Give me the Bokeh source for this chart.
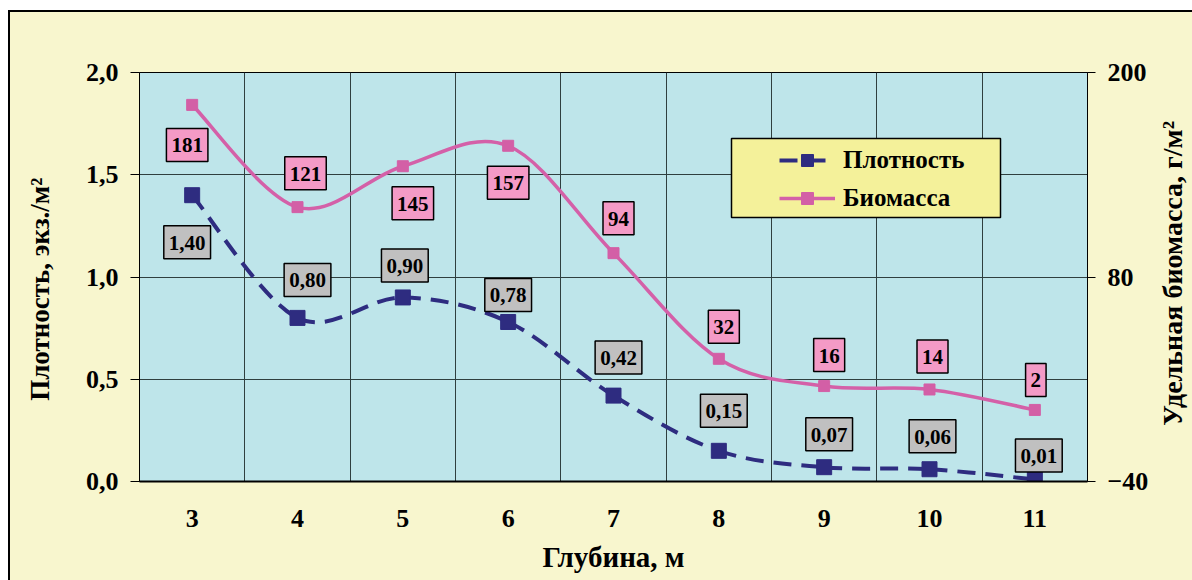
import math
import numpy as np
from bokeh.plotting import figure
from bokeh.layouts import row
from bokeh.models import (Range1d, LinearAxis, FixedTicker, CustomJSTickFormatter,
                          ColumnDataSource, Label, Legend, LegendItem, BoxAnnotation)
from bokeh.embed import file_html
from bokeh.resources import INLINE
from bokeh.core.properties import value

# ---- data ----
depth = [3, 4, 5, 6, 7, 8, 9, 10, 11]
density = [1.40, 0.80, 0.90, 0.78, 0.42, 0.15, 0.07, 0.06, 0.01]
biomass = [181, 121, 145, 157, 94, 32, 16, 14, 2]
density_labels = ["1,40", "0,80", "0,90", "0,78", "0,42", "0,15", "0,07", "0,06", "0,01"]
biomass_labels = ["181", "121", "145", "157", "94", "32", "16", "14", "2"]
left_ticks = [0.0, 0.5, 1.0, 1.5, 2.0]
right_ticks = [-40, 80, 200]
left_title = "Плотность, экз./м²"
right_title = "Удельная биомасса, г/м²"
x_title = "Глубина, м"

# ---- label placement (pixel offsets, style only) ----
dens_dx = [-5, 10, 2, 0, 5, 5, 5, 3, 4]
dens_dy = [-47, 38, 32, 27, 38, 40, 33, 33, 24]
bio_dx = [-5, 8, 10, 0, 5, 5, 5, 3, 1]
bio_dy = [-40, 34, -37, -37, 35, 32, 31, 33, 30]

FONT = "Liberation Serif"
NAVY = "#2E2C80"
PINK_LINE = "#D460A8"
PINK_FILL = "#F49AC6"
GRAY_FILL = "#C0C0C0"
BG = "#F8F6CE"

# geometry (page pixels)
OY = 12                 # top of canvases on page
W0 = 55                 # left title strip
OX = 10 + W0            # left edge of main canvas on page
W, H = 1090, 568
W2 = 1192 - OX - W      # right title strip
FL, FT, FW, FH = 139 - OX, 60, 948, 409

def smooth(xs, ys):
    x = np.asarray(xs, float); y = np.asarray(ys, float)
    xp = np.concatenate([[x[0]], x, [x[-1]]])
    yp = np.concatenate([[y[0]], y, [y[-1]]])
    n = len(x)
    d = dict(x0=[], y0=[], x1=[], y1=[], cx0=[], cy0=[], cx1=[], cy1=[])
    for i in range(n - 1):
        j = i + 1
        d["x0"].append(x[i]); d["y0"].append(y[i])
        d["x1"].append(x[i + 1]); d["y1"].append(y[i + 1])
        d["cx0"].append(x[i] + (xp[j + 1] - xp[j - 1]) / 6)
        d["cy0"].append(y[i] + (yp[j + 1] - yp[j - 1]) / 6)
        d["cx1"].append(x[i + 1] - (xp[j + 2] - xp[j]) / 6)
        d["cy1"].append(y[i + 1] - (yp[j + 2] - yp[j]) / 6)
    return ColumnDataSource(d)

x_range = Range1d(depth[0] - 0.5, depth[-1] + 0.5)
p = figure(width=W, height=H, x_range=x_range, y_range=Range1d(0, 2),
           output_backend="svg", toolbar_location=None,
           min_border_left=FL, min_border_top=FT,
           min_border_right=W - FL - FW, min_border_bottom=H - FT - FH)
p.extra_y_ranges = {"bio": Range1d(-40, 200)}
p.background_fill_color = "#BEE5EA"
p.border_fill_color = BG
p.outline_line_color = "black"
p.outline_line_width = 1

# grids
p.xgrid.ticker = FixedTicker(ticks=[d + 0.5 for d in depth[:-1]])
p.ygrid.ticker = FixedTicker(ticks=left_ticks)
for g in (p.xgrid[0], p.ygrid[0]):
    g.grid_line_color = "#2F3F3F"
    g.grid_line_width = 1

# x axis
xa = p.xaxis[0]
xa.ticker = FixedTicker(ticks=depth)
xa.major_tick_line_color = None
xa.minor_tick_line_color = None
xa.axis_line_width = 2
xa.axis_line_color = "black"
xa.major_label_standoff = 22
xa.axis_label = x_title
xa.axis_label_standoff = 11

# left axis
ya = p.yaxis[0]
ya.ticker = FixedTicker(ticks=left_ticks)
ya.formatter = CustomJSTickFormatter(code="return tick.toFixed(1).replace('.', ',');")
ya.major_tick_out = 9
ya.major_tick_in = 0
ya.minor_tick_line_color = None
ya.axis_line_color = "black"
ya.major_label_standoff = 12

# right axis
ra = LinearAxis(y_range_name="bio", ticker=FixedTicker(ticks=right_ticks))
ra.major_tick_out = 8
ra.major_tick_in = 0
ra.minor_tick_line_color = None
ra.axis_line_color = "black"
ra.major_label_standoff = 12
p.add_layout(ra, "right")

for ax in (xa, ya, ra):
    ax.major_label_text_font = FONT
    ax.major_label_text_font_style = "bold"
    ax.major_label_text_font_size = "26px"
    ax.major_label_text_color = "black"
    ax.axis_label_text_font = FONT
    ax.axis_label_text_font_style = "bold"
    ax.axis_label_text_font_size = "29px"
    ax.axis_label_text_color = "black"

# lines
dens_src = smooth(depth, density)
bio_src = smooth(depth, biomass)
dens_line = p.bezier(x0="x0", y0="y0", x1="x1", y1="y1", cx0="cx0", cy0="cy0",
                     cx1="cx1", cy1="cy1", source=dens_src, line_color=NAVY,
                     line_width=4, line_dash="18 10")
bio_line = p.bezier(x0="x0", y0="y0", x1="x1", y1="y1", cx0="cx0", cy0="cy0",
                    cx1="cx1", cy1="cy1", source=bio_src, line_color=PINK_LINE,
                    line_width=3.5, y_range_name="bio")

pts = ColumnDataSource(dict(x=depth, dens=density, bio=biomass))
dens_pts = p.scatter("x", "dens", source=pts, marker="square", size=15,
                     fill_color=NAVY, line_color=NAVY)
bio_pts = p.scatter("x", "bio", source=pts, marker="square", size=11,
                    fill_color="#D35FA6", line_color="#D35FA6", y_range_name="bio")

pad = dict(left=5, right=5, top=10, bottom=9)
for i in range(len(depth)):
    p.add_layout(Label(x=depth[i], y=density[i], text=density_labels[i],
                       x_offset=dens_dx[i], y_offset=dens_dy[i],
                       text_align="center", text_baseline="middle", text_color="black",
                       text_font=FONT, text_font_style="bold", text_font_size="21px",
                       background_fill_color=GRAY_FILL, border_line_color="black",
                       border_line_width=1.5, padding=pad))
    p.add_layout(Label(x=depth[i], y=biomass[i], text=biomass_labels[i], y_range_name="bio",
                       x_offset=bio_dx[i], y_offset=bio_dy[i],
                       text_align="center", text_baseline="middle", text_color="black",
                       text_font=FONT, text_font_style="bold", text_font_size="21px",
                       background_fill_color=PINK_FILL, border_line_color="black",
                       border_line_width=1.5, padding=pad))

# legend box (page pixel layout -> data units)
def px_x(px):
    return x_range.start + (px - OX - FL) / FW * (x_range.end - x_range.start)
def px_y(py):
    return 2 - (py - OY - FT) / FH * 2

box = BoxAnnotation(left=px_x(731), right=px_x(1000), top=px_y(138), bottom=px_y(217),
                    fill_color="#F4F19A", fill_alpha=1, line_color="black", line_width=1.5,
                    line_alpha=1)
p.add_layout(box)

legend = Legend(items=[LegendItem(label="Плотность", renderers=[dens_line, dens_pts]),
                       LegendItem(label="Биомасса", renderers=[bio_line, bio_pts])],
                location=(779 - OX - FL, (OY + FT + FH) - 213),
                padding=0, margin=0, spacing=8, glyph_width=56, glyph_height=30,
                label_height=30, label_standoff=8,
                label_text_font=FONT, label_text_font_style="bold",
                label_text_font_size="25px", label_text_color="black",
                border_line_color=None, background_fill_alpha=0)
p.add_layout(legend)

def title_strip(width, text, cx_page, cy_page, left_edge_page, size):
    f = figure(width=width, height=H, x_range=Range1d(0, width), y_range=Range1d(0, H),
               output_backend="svg", toolbar_location=None, min_border=0)
    f.axis.visible = False
    f.grid.visible = False
    f.outline_line_color = None
    f.background_fill_color = BG
    f.border_fill_color = BG
    f.text(x=[cx_page - left_edge_page], y=[H - (cy_page - OY)], text=[text],
           angle=math.pi / 2, text_align="center", text_baseline="middle",
           text_color="black", text_font=value(FONT), text_font_style="bold",
           text_font_size=size)
    return f

p0 = title_strip(W0, left_title, 39, 313, 10, "27px")
p2 = title_strip(W2, right_title, 1172, 291, OX + W, "28px")

lay = row(p0, p, p2, spacing=0)
lay.margin = (10, 0, 0, 8)
lay.styles = {"border-left": "2px solid black", "border-top": "2px solid black",
              "background-color": BG}

open("out.html", "w").write(file_html(lay, INLINE))
